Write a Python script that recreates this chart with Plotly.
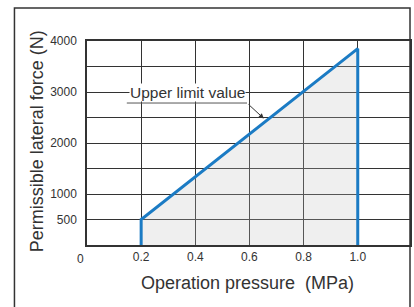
import plotly.graph_objects as go

# data
pressure = [0.2, 0.2, 1.0, 1.0]          # MPa
force = [0, 500, 3850, 0]                # N
x_ticks = [0.2, 0.4, 0.6, 0.8, 1.0]
x_labels = ["0.2", "0.4", "0.6", "0.8", "1.0"]
y_ticks = [0, 500, 1000, 1500, 2000, 2500, 3000, 3500, 4000]
y_labels = ["", "500", "1000", "", "2000", "", "3000", "", "4000"]

BLUE = "#1b7bc4"
DARK = "#333333"
FONT = "Liberation Sans, Arial, sans-serif"

fig = go.Figure()
fig.add_trace(go.Scatter(x=pressure, y=force, mode="lines", fill="toself",
                         fillcolor="rgba(190,190,190,0.25)",
                         line=dict(width=0), hoverinfo="skip", showlegend=False))
fig.add_trace(go.Scatter(x=pressure, y=force, mode="lines",
                         line=dict(color=BLUE, width=3), showlegend=False))

fig.update_layout(
    width=414, height=307,
    margin=dict(l=87, r=2, t=41, b=62),
    paper_bgcolor="white", plot_bgcolor="white",
    font=dict(family=FONT, color=DARK, size=12),
    xaxis=dict(range=[0, 1.193], tickvals=x_ticks, ticktext=x_labels,
               showgrid=True, gridcolor=DARK, gridwidth=1,
               showline=True, linecolor=DARK, linewidth=1.5, mirror=True,
               ticks="", zeroline=False, tickfont=dict(size=12, color=DARK)),
    yaxis=dict(range=[0, 4000], tickvals=y_ticks, ticktext=y_labels,
               showgrid=True, gridcolor=DARK, gridwidth=1,
               showline=True, linecolor=DARK, linewidth=1.5, mirror=True,
               ticks="", zeroline=False, ticklabelstandoff=6,
               tickfont=dict(size=12, color=DARK)),
)

# outer frame
fig.add_shape(type="rect", xref="paper", yref="paper",
              x0=-0.2246, x1=1.0, y0=-0.35, y1=1.1618,
              line=dict(color=DARK, width=1.5), layer="above")

# underline of label
fig.add_shape(type="line", xref="x", yref="y", x0=0.147, x1=0.591,
              y0=2784, y1=2784, line=dict(color="#555555", width=1))

# arrow to line
fig.add_annotation(x=0.653, y=2480, ax=0.591, ay=2784, axref="x", ayref="y",
                   xref="x", yref="y", text="", showarrow=True,
                   arrowhead=2, arrowsize=1, arrowwidth=1, arrowcolor=DARK)

fig.add_annotation(x=0.371, y=3000, xref="x", yref="y", text="Upper limit value",
                   showarrow=False, bgcolor="white", borderpad=0,
                   xanchor="center", yanchor="middle",
                   font=dict(size=15.5, color=DARK, family=FONT))

# "0" corner label
fig.add_annotation(x=-0.0215, y=-0.069, xref="paper", yref="paper", text="0",
                   showarrow=False, xanchor="center", yanchor="middle",
                   font=dict(size=12, color=DARK))

# axis titles
fig.add_annotation(x=0.498, y=-0.186, xref="paper", yref="paper",
                   text="Operation pressure  (MPa)", showarrow=False,
                   xanchor="center", yanchor="middle",
                   font=dict(size=18, color=DARK, family=FONT))
fig.add_annotation(x=-0.154, y=0.51, xref="paper", yref="paper",
                   text="Permissible lateral force (N)", showarrow=False,
                   textangle=-90, xanchor="center", yanchor="middle",
                   font=dict(size=18, color=DARK, family=FONT))

fig.write_html("out.html", config={"displayModeBar": False},
               post_script="document.body.style.margin='0';"
                           "document.body.style.overflow='hidden';")
